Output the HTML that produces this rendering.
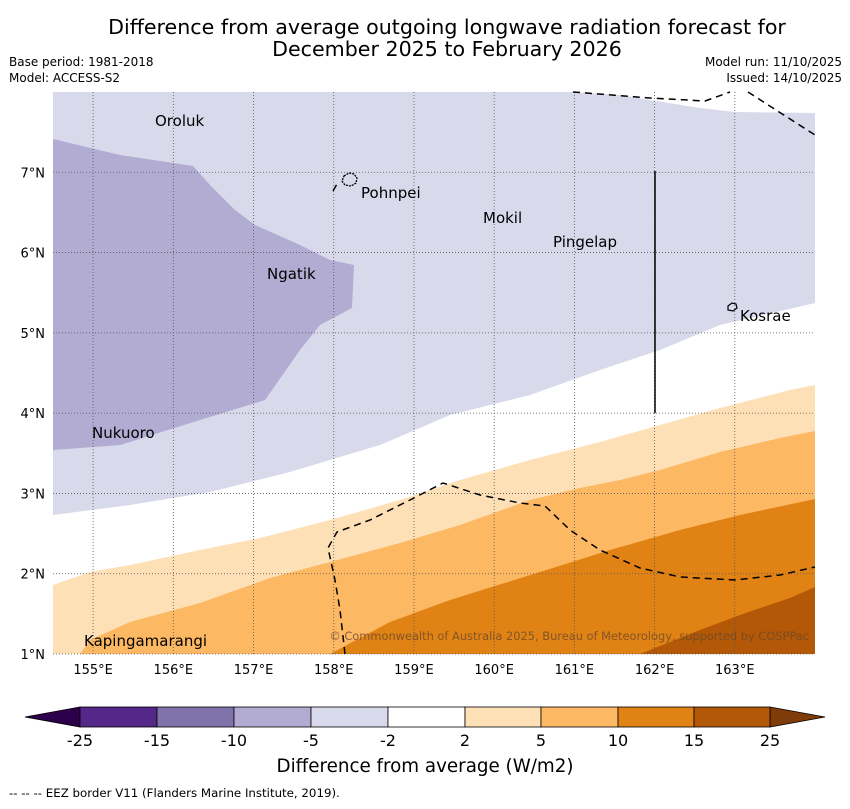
<!DOCTYPE html>
<html><head><meta charset="utf-8"><style>
body{margin:0;background:#fff;font-family:"Liberation Sans",sans-serif}
svg text{font-family:"DejaVu Sans","Liberation Sans",sans-serif}
</style></head><body>
<svg width="850" height="804" viewBox="0 0 850 804" xmlns="http://www.w3.org/2000/svg">
<text x="447" y="34" font-size="20.6" text-anchor="middle">Difference from average outgoing longwave radiation forecast for</text>
<text x="447" y="56" font-size="20.6" text-anchor="middle">December 2025 to February 2026</text>
<text x="9" y="66" font-size="12">Base period: 1981-2018</text>
<text x="9" y="82" font-size="12">Model: ACCESS-S2</text>
<text x="842" y="66" font-size="12" text-anchor="end">Model run: 11/10/2025</text>
<text x="842" y="82" font-size="12" text-anchor="end">Issued: 14/10/2025</text>
<g id="map"></g>
<g id="cbar"></g>
<text x="425" y="772" font-size="18.3" text-anchor="middle">Difference from average (W/m2)</text>
<text x="9" y="797" font-size="11.8">--  --  -- EEZ border V11 (Flanders Marine Institute, 2019).</text>
</svg>
<script>
const NS="http://www.w3.org/2000/svg";
const lonMin=154.5,lonMax=164,latMin=1,latMax=8;
const X0=53,X1=815,Y0=92,Y1=654;
const lonTicks=[155,156,157,158,159,160,161,162,163];
const latTicks=[1,2,3,4,5,6,7];
const levels=[-25,-15,-10,-5,-2,2,5,10,15,25];
const colors=["#542788","#8073ac","#b2abd2","#d8daeb","#ffffff","#fee0b6","#fdb863","#e08214","#b35806"];
const lightPurplePx=[[53,92],[573,92],[620,95],[650,100],[700,108],[735,112],[815,113],[815,303],[720,325],[660,350],[600,370],[530,395],[450,415],[380,445],[290,472],[210,492],[130,505],[53,515]];
const midPurplePx=[[53,139],[120,155],[193,166],[210,185],[235,210],[255,225],[300,245],[330,260],[354,265],[352,308],[320,325],[300,350],[265,400],[200,420],[120,445],[53,450]];
const lightOrangePx=[[53,585],[90,572],[130,565],[200,550],[260,538],[330,520],[400,500],[460,480],[530,460],[600,442],[660,425],[720,408],[790,390],[815,385],[815,654],[53,654]];
const orangePx=[[80,654],[90,640],[130,622],[200,603],[270,578],[330,562],[400,543],[460,525],[530,500],[580,488],[620,480],[660,470],[720,452],[780,438],[815,431],[815,654]];
const darkOrangePx=[[330,654],[390,622],[450,600],[540,572],[610,550],[680,530],[740,515],[815,499],[815,654]];
const darkestPx=[[640,654],[700,630],[740,615],[790,598],[815,587],[815,654]];
const eez1=[[573,92],[650,98],[705,101],[730,92]];
const eez2=[[748,92],[815,135]];
const eez3=[[345,654],[340,610],[335,580],[328,548],[337,532],[370,520],[410,500],[443,483],[480,495],[520,503],[545,506],[570,530],[600,550],[640,568],[680,577],[735,580],[780,575],[815,567]];
const islands=[["Oroluk",155,121],["Pohnpei",361,193],["Mokil",483,218],["Pingelap",553,242],["Ngatik",267,274],["Kosrae",740,316],["Nukuoro",92,433],["Kapingamarangi",84,641]];
const xs=lon=>X0+(lon-lonMin)/(lonMax-lonMin)*(X1-X0);
const ys=lat=>Y1-(lat-latMin)/(latMax-latMin)*(Y1-Y0);
function mk(t,a,p){const e=document.createElementNS(NS,t);for(const k in a)e.setAttribute(k,a[k]);p.appendChild(e);return e;}
const map=document.getElementById('map');
const pts=a=>a.map(p=>p.join(',')).join(' ');
let r=mk('rect',{x:X0,y:Y0,width:X1-X0,height:Y1-Y0,fill:'#fff'},map);


const regs=[[lightPurplePx,colors[3],'region-neg5-neg2'],[midPurplePx,colors[2],'region-neg10-neg5'],[lightOrangePx,colors[5],'region-2-5'],[orangePx,colors[6],'region-5-10'],[darkOrangePx,colors[7],'region-10-15'],[darkestPx,colors[8],'region-15-25']];
regs.forEach(g=>{const e=mk('polygon',{points:pts(g[0]),fill:g[1]},map);

});
lonTicks.forEach(l=>{const x=xs(l);const e=mk('line',{x1:x,x2:x,y1:Y0,y2:Y1,stroke:'#555','stroke-width':0.8,'stroke-dasharray':'1,2'},map);


const t=mk('text',{x:x,y:674,'font-size':13,'text-anchor':'middle'},map);t.textContent=l+'°E';

});
latTicks.forEach(l=>{const y=ys(l);const e=mk('line',{x1:X0,x2:X1,y1:y,y2:y,stroke:'#555','stroke-width':0.8,'stroke-dasharray':'1,2'},map);


const t=mk('text',{x:45,y:y+5,'font-size':13,'text-anchor':'end'},map);t.textContent=l+'°N';

});
[eez1,eez2,eez3,[[333,191],[337,184]]].forEach(a=>{const e=mk('polyline',{points:pts(a),fill:'none',stroke:'#000','stroke-width':1.5,'stroke-dasharray':'7,5'},map);

});
let vl=mk('line',{x1:655,x2:655,y1:171,y2:413,stroke:'#000','stroke-width':1.5},map);


let pi=mk('path',{d:'M344,176 l5,-3 5,1 3,4 -1,5 -5,3 -6,-1 -3,-4z',fill:'none',stroke:'#000','stroke-width':1.3,'stroke-dasharray':'2,1'},map);


let ki=mk('path',{d:'M728,306 l4,-3 4,1 1,4 -4,3 -5,-1z',fill:'none',stroke:'#000','stroke-width':1.2},map);


islands.forEach(i=>{const t=mk('text',{x:i[1],y:i[2]+5,'font-size':15},map);t.textContent=i[0];

});
let cp=mk('text',{x:809,y:640,'font-size':11.4,'text-anchor':'end',fill:'#6b4a2a','fill-opacity':0.8},map);cp.textContent='© Commonwealth of Australia 2025, Bureau of Meteorology, supported by COSPPac';


const cb=document.getElementById('cbar');
const cx=[80,157,234,311,388,465,541,618,694,770];
let lt=mk('polygon',{points:'80,707 25,717 80,727',fill:'#2d004b',stroke:'#000','stroke-width':0.8},cb);


let rt=mk('polygon',{points:'770,707 825,717 770,727',fill:'#7f3b08',stroke:'#000','stroke-width':0.8},cb);


colors.forEach((c,i)=>{const e=mk('rect',{x:cx[i],y:707,width:cx[i+1]-cx[i],height:20,fill:c,stroke:'#000','stroke-width':0.8},cb);

});
levels.forEach((v,i)=>{const t=mk('text',{x:cx[i],y:746,'font-size':16,'text-anchor':'middle'},cb);t.textContent=v;

});
</script>
</body></html>
